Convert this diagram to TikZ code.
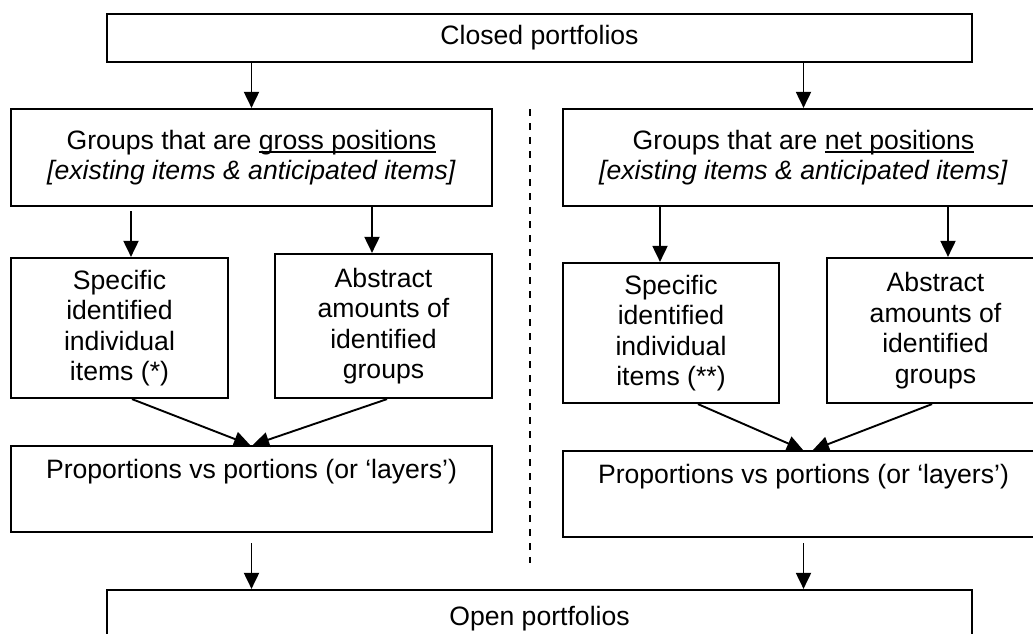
\documentclass[tikz,border=0pt]{standalone}
\usepackage{fontspec}
\setmainfont{Liberation Sans}
\usetikzlibrary{arrows.meta}
\newcommand\myul[1]{\setbox0\hbox{#1}\rlap{\rule[-3.8pt]{\wd0}{1.9pt}}#1}
\begin{document}
\begin{tikzpicture}[x=1pt,y=-1pt,
  box/.style={draw, line width=2.2pt, inner sep=0pt, align=center,
    font=\fontsize{26.6}{30.5}\selectfont},
  arr/.style={line width=1.9pt, -{Triangle[length=16pt,width=15pt]}},
  sep/.style={line width=2pt, dash pattern=on 7pt off 7pt}]
\useasboundingbox (0,0) rectangle (1033,633);
\clip (0,0) rectangle (1033,633);

\node[box, minimum width=865pt, minimum height=48pt] (top) at (539.5,38) {Closed portfolios};

\node[box, minimum width=481pt, minimum height=97pt] (gross) at (251.5,157.5)
  {Groups that are \myul{gross positions}\\\textit{[existing items \& anticipated items]}};
\node[box, minimum width=481pt, minimum height=97pt] (net) at (803.5,157.5)
  {Groups that are \myul{net positions}\\\textit{[existing items \& anticipated items]}};

\node[box, minimum width=217pt, minimum height=140pt] (specL) at (119.5,328)
  {Specific\\identified\\individual\\items (*)};
\node[box, minimum width=217pt, minimum height=144pt] (absL) at (383.5,326)
  {Abstract\\amounts of\\identified\\groups};
\node[box, minimum width=216pt, minimum height=140pt] (specR) at (671,333)
  {Specific\\identified\\individual\\items (**)};
\node[box, minimum width=217pt, minimum height=145pt] (absR) at (935.5,330.5)
  {Abstract\\amounts of\\identified\\groups};

\node[box, minimum width=481pt, minimum height=86pt] (propL) at (251.5,489)
  {Proportions vs portions (or ‘layers’)\\\strut};
\node[box, minimum width=481pt, minimum height=86pt] (propR) at (803.5,494)
  {Proportions vs portions (or ‘layers’)\\\strut};

\node[box, minimum width=865pt, minimum height=92pt] (open) at (539.5,636)
  {Open portfolios\\\strut};

\draw[arr] (top.south -| gross.north) -- (gross.north);
\draw[arr] (top.south -| net.north) -- (net.north);

\draw[arr, shorten <=4pt] ([xshift=-120.5pt]gross.south) -- ([xshift=11.5pt]specL.north);
\draw[arr] ([xshift=120.5pt]gross.south) -- ([xshift=-11.5pt]absL.north);
\draw[arr] ([xshift=-143.5pt]net.south) -- ([xshift=-11pt]specR.north);
\draw[arr] ([xshift=144.5pt]net.south) -- ([xshift=12.5pt]absR.north);

\draw[arr] ([xshift=12.5pt]specL.south) -- ([xshift=-1.5pt]propL.north);
\draw[arr] ([xshift=3.5pt]absL.south) -- ([xshift=1.5pt]propL.north);
\draw[arr] ([xshift=27pt]specR.south) -- ([xshift=-0.5pt]propR.north);
\draw[arr] ([xshift=-3.5pt]absR.south) -- ([xshift=9.5pt]propR.north);

\draw[arr, shorten <=10pt] (propL.south) -- (propL.south |- open.north);
\draw[arr, shorten <=5pt] (propR.south) -- (propR.south |- open.north);

\coordinate (d1) at (530,109);
\coordinate (d2) at (530,563);
\draw[sep] (d1) -- (d2);
\end{tikzpicture}
\end{document}
